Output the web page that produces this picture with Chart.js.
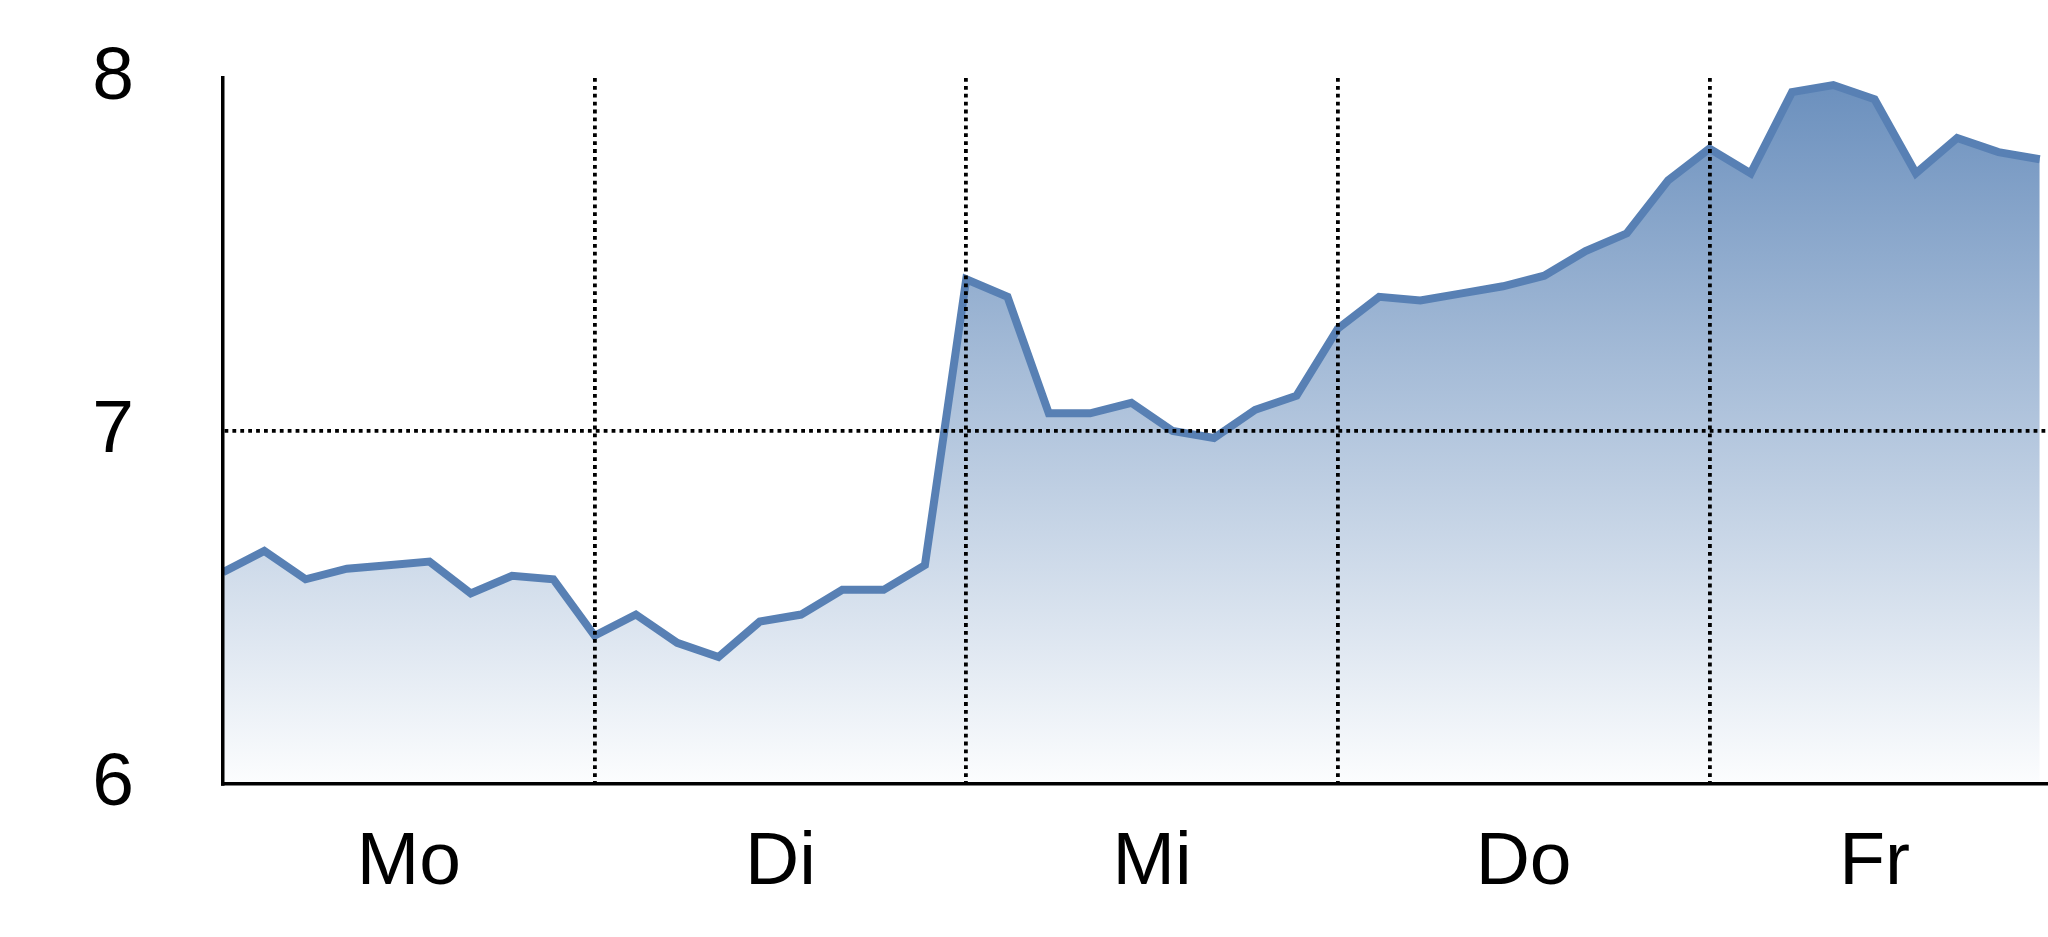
<!DOCTYPE html>
<html>
<head>
<meta charset="utf-8">
<script src="https://cdn.jsdelivr.net/npm/chart.js@4/dist/chart.umd.min.js"></script>
<style>
  html, body { margin: 0; padding: 0; background: #fff; }
  #chart { display: block; }
</style>
</head>
<body>
<canvas id="chart" width="2048" height="937"></canvas>
<script>
// one value per hour slot, 9 slots per day, Friday cut after 8
const dayLabels = ["Mo", "Di", "Mi", "Do", "Fr"];
const dayLabelPos = [4.5, 13.5, 22.5, 31.5, 40];
const dayBounds = [9, 18, 27, 36];
const yTicks = [6, 7, 8];

const values = [
  6.60, 6.66, 6.58, 6.61, 6.62, 6.63, 6.54, 6.59, 6.58,
  6.42, 6.48, 6.40, 6.36, 6.46, 6.48, 6.55, 6.55, 6.62,
  7.43, 7.38, 7.05, 7.05, 7.08, 7.00, 6.98, 7.06, 7.10,
  7.29, 7.38, 7.37, 7.39, 7.41, 7.44, 7.51, 7.56, 7.71,
  7.80, 7.73, 7.96, 7.98, 7.94, 7.73, 7.83, 7.79, 7.77
];

const points = values.map((v, i) => ({ x: i, y: v }));

const FONT = "'Liberation Sans', Arial, sans-serif";
const LINE = "#5880b4";
const DOT = [3.8, 4.1];

function fillGradient(context) {
  const { chart } = context;
  const area = chart.chartArea;
  if (!area) return "rgba(88,128,180,0.4)";
  const g = chart.ctx.createLinearGradient(0, area.top, 0, area.bottom);
  g.addColorStop(0, "rgb(106,143,189)");
  g.addColorStop(1, "rgb(252,253,254)");
  return g;
}

const ctx = document.getElementById("chart").getContext("2d");
new Chart(ctx, {
  type: "line",
  data: {
    datasets: [{
      data: points,
      borderColor: LINE,
      borderWidth: 8,
      backgroundColor: fillGradient,
      fill: "start",
      pointRadius: 0,
      tension: 0
    }]
  },
  options: {
    responsive: false,
    animation: false,
    events: [],
    layout: { padding: { top: 78, right: 0, bottom: 0, left: 0 } },
    plugins: { legend: { display: false }, tooltip: { enabled: false } },
    scales: {
      x: {
        type: "linear",
        min: 0,
        max: 44.2,
        afterBuildTicks: (s) => {
          const t = dayLabelPos.map(v => ({ value: v }))
            .concat(dayBounds.map(v => ({ value: v })));
          t.sort((a, b) => a.value - b.value);
          s.ticks = t;
        },
        afterFit: (s) => { s.height = 153; s.paddingLeft = 0; s.paddingRight = 0; },
        ticks: {
          autoSkip: false,
          maxRotation: 0,
          padding: 34,
          color: "#000",
          font: { family: FONT, size: 75 },
          callback: (v) => {
            const k = dayLabelPos.indexOf(v);
            return k >= 0 ? dayLabels[k] : "";
          }
        },
        grid: {
          z: 1,
          drawTicks: false,
          lineWidth: 3.8,
          color: (c) => dayBounds.includes(c.tick && c.tick.value) ? "#000" : "rgba(0,0,0,0)"
        },
        border: { display: true, z: 1, color: "#000", width: 3.5, dash: DOT }
      },
      y: {
        min: 6,
        max: 8,
        afterBuildTicks: (s) => { s.ticks = yTicks.map(v => ({ value: v })); },
        afterFit: (s) => { s.width = 223; s.paddingTop = 0; s.paddingBottom = 0; },
        ticks: {
          padding: 89,
          color: "#000",
          font: { family: FONT, size: 75 }
        },
        grid: {
          z: 1,
          drawTicks: false,
          lineWidth: 3.8,
          color: (c) => (c.tick && c.tick.value === 7) ? "#000" : "rgba(0,0,0,0)"
        },
        border: { display: true, z: 1, color: "#000", width: 3.5, dash: DOT }
      }
    }
  }
});
</script>
</body>
</html>
